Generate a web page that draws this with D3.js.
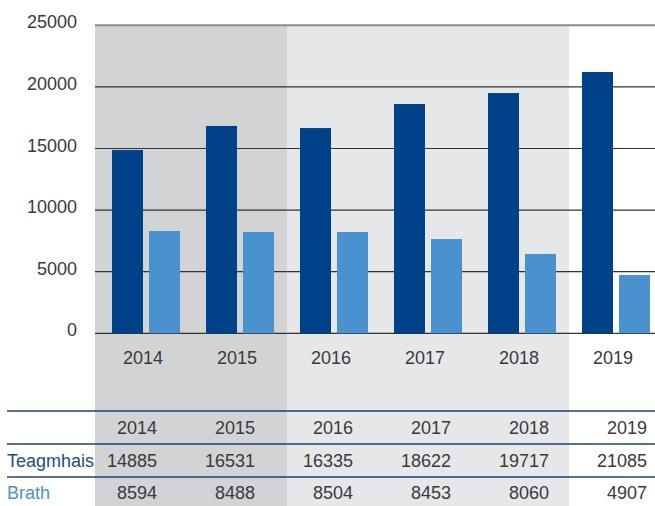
<!DOCTYPE html>
<html>
<head>
<meta charset="utf-8">
<script src="https://cdn.jsdelivr.net/npm/d3@7"></script>
<style>
  body { margin: 0; background: #fff; }
  svg text { font-family: "Liberation Sans", Arial, sans-serif; font-size: 18px; }
</style>
</head>
<body>
<div id="chart"></div>
<script>
const years = ["2014", "2015", "2016", "2017", "2018", "2019"];
const series = ["Teagmhais", "Brath"];
// bar heights as drawn
const teagmhaisBars = [14880, 16830, 16660, 18610, 19500, 21210];
const brathBars = [8300, 8220, 8220, 7650, 6440, 4730];
// printed table values
const teagmhaisTable = [14885, 16531, 16335, 18622, 19717, 21085];
const brathTable = [8594, 8488, 8504, 8453, 8060, 4907];
const yTicks = [0, 5000, 10000, 15000, 20000, 25000];

const W = 655, H = 506;
const colors = ["#00428a", "#4a91cf"];
const textColor = "#3a3a3a";

const svg = d3.select("#chart").append("svg")
  .attr("width", W)
  .attr("height", H);

const plotLeft = 95;
const y = d3.scaleLinear([0, 25000], [333.3, 25.3]);
const x0 = d3.scaleBand().domain(years).range([99, 663]);
const x1 = d3.scaleBand().domain(series).range([13, 81]).paddingInner(6 / 37);

// background shading
const shades = [
  {from: plotLeft, to: x0("2016"), fill: "#d1d3d4"},
  {from: x0("2016"), to: x0("2019"), fill: "#e6e7e8"}
];
svg.append("g")
  .selectAll("rect")
  .data(shades)
  .join("rect")
    .attr("x", d => d.from)
    .attr("y", y(25000))
    .attr("width", d => d.to - d.from)
    .attr("height", H - y(25000))
    .attr("fill", d => d.fill);

// gridlines
svg.append("g")
  .selectAll("line")
  .data(yTicks)
  .join("line")
    .attr("x1", plotLeft)
    .attr("x2", W)
    .attr("y1", d => y(d))
    .attr("y2", d => y(d))
    .attr("stroke", d => d === 25000 ? "#8a8a8a" : "#333")
    .attr("stroke-width", d => d === 25000 ? 2 : 1.2);

// y labels
svg.append("g")
  .selectAll("text")
  .data(yTicks)
  .join("text")
    .attr("x", 77)
    .attr("y", d => y(d) + 3)
    .attr("text-anchor", "end")
    .attr("fill", textColor)
    .text(d => d);

// bars
const rows = years.map((yr, i) => ({year: yr, values: [teagmhaisBars[i], brathBars[i]]}));
svg.append("g")
  .selectAll("g")
  .data(rows)
  .join("g")
    .attr("transform", d => `translate(${x0(d.year)},0)`)
  .selectAll("rect")
  .data(d => d.values.map((v, j) => ({key: series[j], value: v})))
  .join("rect")
    .attr("x", d => x1(d.key))
    .attr("y", d => y(d.value))
    .attr("width", x1.bandwidth())
    .attr("height", d => y(0) - y(d.value))
    .attr("fill", (d, j) => colors[j]);

// x labels under axis
svg.append("g")
  .selectAll("text")
  .data(years)
  .join("text")
    .attr("x", d => x0(d) + x0.bandwidth() / 2 - 3)
    .attr("y", 364)
    .attr("text-anchor", "middle")
    .attr("fill", textColor)
    .text(d => d);

// table
const tx = d3.scaleBand().domain(years).range([59, 647]);
const lineYs = [411, 444, 477];
svg.append("g")
  .selectAll("line")
  .data(lineYs)
  .join("line")
    .attr("x1", 7)
    .attr("x2", W)
    .attr("y1", d => d)
    .attr("y2", d => d)
    .attr("stroke", "#1d3f78")
    .attr("stroke-width", 1.5);

const tableRows = [
  {label: "", values: years, baseline: 434},
  {label: "Teagmhais", values: teagmhaisTable, baseline: 467, color: "#1c4d8c"},
  {label: "Brath", values: brathTable, baseline: 499, color: "#4a91cf"}
];
const tr = svg.append("g")
  .selectAll("g")
  .data(tableRows)
  .join("g");

tr.append("text")
  .attr("x", 7)
  .attr("y", d => d.baseline)
  .attr("fill", d => d.color || textColor)
  .text(d => d.label);

tr.selectAll("text.val")
  .data(d => d.values.map((v, i) => ({v, year: years[i], baseline: d.baseline})))
  .join("text")
    .attr("class", "val")
    .attr("x", d => tx(d.year) + tx.bandwidth())
    .attr("y", d => d.baseline)
    .attr("text-anchor", "end")
    .attr("fill", textColor)
    .text(d => d.v);
</script>
</body>
</html>
